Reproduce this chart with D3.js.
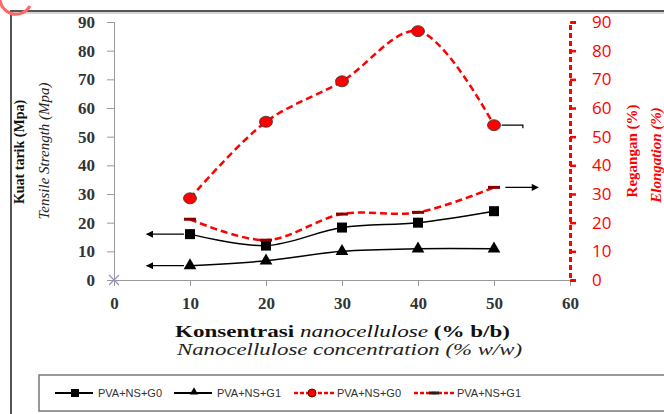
<!DOCTYPE html>
<html>
<head>
<meta charset="utf-8">
<script src="https://cdn.jsdelivr.net/npm/d3@7"></script>
<style>
  body { margin: 0; background: #fff; }
  svg { display: block; }
</style>
</head>
<body>
<div id="chart"></div>
<script>
// concentrations (% w/w)
const concentration = [10, 20, 30, 40, 50];
// tensile strength (Mpa), left axis
const tensileG0 = [16, 12, 18.3, 20, 24];
const tensileG1 = [5, 6.7, 10, 10.9, 10.9];
// elongation (%), right axis
const elongG0 = [28.5, 55.2, 69.3, 86.8, 54];
const elongG1 = [21.2, 13.9, 23, 23.6, 32.3];

const xTicks = [0, 10, 20, 30, 40, 50, 60];
const yTicks = [0, 10, 20, 30, 40, 50, 60, 70, 80, 90];
const legendNames = ['PVA+NS+G0', 'PVA+NS+G1', 'PVA+NS+G0', 'PVA+NS+G1'];

const width = 664, height = 414;
const svg = d3.select('#chart').append('svg')
    .attr('width', width)
    .attr('height', height);

// frame
svg.append('path')
    .attr('d', `M11,${height} V11 H${width}`)
    .attr('fill', 'none')
    .attr('stroke', '#555')
    .attr('stroke-width', 2);
svg.append('line').attr('x1', 12).attr('x2', width).attr('y1', 13).attr('y2', 13)
    .attr('stroke', '#aaa').attr('stroke-width', 1);

// watermark arc top-left
svg.append('path')
    .attr('d', 'M0,-2 A16,16 0 0 0 30,6')
    .attr('fill', 'none').attr('stroke', '#f66').attr('stroke-width', 3);

const xScale = d3.scaleLinear().domain([0, 60]).range([114, 570]);
const yLeft = d3.scaleLinear().domain([0, 90]).range([280, 22]);
const yRight = d3.scaleLinear().domain([0, 90]).range([280, 22]);

// left axis
const leftAxis = svg.append('g')
    .attr('transform', `translate(${xScale(0)},0)`)
    .call(d3.axisLeft(yLeft).tickValues(yTicks).tickSize(7).tickPadding(12));
leftAxis.select('.domain').attr('stroke', '#999');
leftAxis.selectAll('.tick line').attr('stroke', '#999');
leftAxis.selectAll('text')
    .attr('font-family', 'Liberation Serif, serif')
    .attr('font-size', 17).attr('font-weight', 'bold').attr('fill', '#333');

// bottom axis
const bottomAxis = svg.append('g')
    .attr('transform', `translate(0,${yLeft(0)})`)
    .call(d3.axisBottom(xScale).tickValues(xTicks).tickSize(6).tickPadding(11));
bottomAxis.select('.domain').attr('stroke', '#999');
bottomAxis.selectAll('.tick line').attr('stroke', '#999');
bottomAxis.selectAll('text')
    .attr('font-family', 'Liberation Serif, serif')
    .attr('font-size', 17).attr('font-weight', 'bold').attr('fill', '#333');

// right axis (red dashed)
const rightAxis = svg.append('g')
    .attr('transform', `translate(${xScale(60)},0)`)
    .call(d3.axisRight(yRight).tickValues(yTicks).tickSize(6).tickPadding(16));
rightAxis.select('.domain').attr('stroke', 'red').attr('stroke-width', 3)
    .attr('stroke-dasharray', '5,3');
rightAxis.selectAll('.tick line').attr('stroke', 'red').attr('stroke-width', 2.5);
rightAxis.selectAll('text')
    .attr('font-family', 'Open Sans, sans-serif')
    .attr('font-size', 17).attr('fill', 'red');

// axis titles
svg.append('text')
    .attr('transform', `translate(24,152) rotate(-90)`)
    .attr('text-anchor', 'middle')
    .attr('font-family', 'Liberation Serif, serif').attr('font-weight', 'bold')
    .attr('font-size', 14).attr('fill', '#111')
    .text('Kuat tarik (Mpa)');
svg.append('text')
    .attr('transform', `translate(49,151) rotate(-90)`)
    .attr('text-anchor', 'middle')
    .attr('font-family', 'Liberation Serif, serif').attr('font-style', 'italic')
    .attr('font-size', 15).attr('fill', '#222')
    .text('Tensile Strength (Mpa)');
svg.append('text')
    .attr('transform', `translate(637,151) rotate(-90)`)
    .attr('text-anchor', 'middle')
    .attr('font-family', 'Liberation Serif, serif').attr('font-weight', 'bold')
    .attr('font-size', 15).attr('fill', 'red')
    .text('Regangan (%)');
svg.append('text')
    .attr('transform', `translate(661,155) rotate(-90)`)
    .attr('text-anchor', 'middle')
    .attr('font-family', 'Liberation Serif, serif').attr('font-weight', 'bold')
    .attr('font-style', 'italic')
    .attr('font-size', 15).attr('fill', 'red')
    .text('Elongation (%)');
svg.append('text')
    .attr('x', 175).attr('y', 337)
    .attr('textLength', 335).attr('lengthAdjust', 'spacingAndGlyphs')
    .attr('font-family', 'Liberation Serif, serif')
    .attr('font-size', 16).attr('fill', '#111')
    .call(t => {
        t.append('tspan').attr('font-weight', 'bold').text('Konsentrasi ');
        t.append('tspan').attr('font-style', 'italic').text('nanocellulose');
        t.append('tspan').attr('font-weight', 'bold').text(' (% b/b)');
    });
svg.append('text')
    .attr('x', 177).attr('y', 355)
    .attr('textLength', 345).attr('lengthAdjust', 'spacingAndGlyphs')
    .attr('font-family', 'Liberation Serif, serif').attr('font-style', 'italic')
    .attr('font-size', 16).attr('fill', '#222')
    .text('Nanocellulose concentration (% w/w)');

// origin marker
const ox = xScale(0), oy = yLeft(0);
svg.append('path')
    .attr('d', `M${ox - 5},${oy - 5}L${ox + 5},${oy + 5}M${ox - 5},${oy + 5}L${ox + 5},${oy - 5}`)
    .attr('stroke', '#9b8cc4').attr('stroke-width', 1.2);

const rows = (vals) => concentration.map((c, i) => ({ x: c, y: vals[i] }));
const lineL = d3.line().x(d => xScale(d.x)).y(d => yLeft(d.y)).curve(d3.curveCatmullRom);
const lineR = d3.line().x(d => xScale(d.x)).y(d => yRight(d.y)).curve(d3.curveCatmullRom);

// tensile lines
svg.append('path').attr('d', lineL(rows(tensileG0)))
    .attr('fill', 'none').attr('stroke', '#000').attr('stroke-width', 1.5);
svg.append('path').attr('d', lineL(rows(tensileG1)))
    .attr('fill', 'none').attr('stroke', '#000').attr('stroke-width', 1.5);

// elongation lines
svg.append('path').attr('d', lineR(rows(elongG0)))
    .attr('fill', 'none').attr('stroke', 'red').attr('stroke-width', 2.5)
    .attr('stroke-dasharray', '7,4');
svg.append('path').attr('d', lineR(rows(elongG1)))
    .attr('fill', 'none').attr('stroke', 'red').attr('stroke-width', 2.5)
    .attr('stroke-dasharray', '7,4');

// markers
svg.selectAll('.sq').data(rows(tensileG0)).enter().append('rect')
    .attr('x', d => xScale(d.x) - 5).attr('y', d => yLeft(d.y) - 5)
    .attr('width', 10).attr('height', 10).attr('fill', '#000');
svg.selectAll('.tri').data(rows(tensileG1)).enter().append('path')
    .attr('transform', d => `translate(${xScale(d.x)},${yLeft(d.y)})`)
    .attr('d', d3.symbol(d3.symbolTriangle, 70))
    .attr('fill', '#000');
svg.selectAll('.circ').data(rows(elongG0)).enter().append('ellipse')
    .attr('cx', d => xScale(d.x)).attr('cy', d => yRight(d.y))
    .attr('rx', 6.5).attr('ry', 5.5)
    .attr('fill', 'red').attr('stroke', '#333').attr('stroke-width', 0.8);
svg.selectAll('.dash').data(rows(elongG1)).enter().append('rect')
    .attr('x', d => xScale(d.x) - 6).attr('y', d => yRight(d.y) - 1.5)
    .attr('width', 12).attr('height', 3).attr('fill', '#8b0000');

// arrows indicating axes
const defs = svg.append('defs');
defs.append('marker').attr('id', 'arr')
    .attr('viewBox', '0 0 10 10').attr('refX', 9).attr('refY', 5)
    .attr('markerWidth', 8).attr('markerHeight', 7).attr('orient', 'auto')
    .attr('markerUnits', 'userSpaceOnUse')
    .append('path').attr('d', 'M0,0L10,5L0,10Z').attr('fill', '#000');
function arrow(x1, x2, y) {
    svg.append('line').attr('x1', x1).attr('x2', x2).attr('y1', y).attr('y2', y)
        .attr('stroke', '#000').attr('stroke-width', 1.2)
        .attr('marker-end', 'url(#arr)');
}
arrow(xScale(9.2), xScale(4.3), yLeft(tensileG0[0]));
arrow(xScale(9.2), xScale(4.3), yLeft(tensileG1[0]));
arrow(xScale(51.5), xScale(55.8), yRight(elongG1[4]));
svg.append('path')
    .attr('d', `M${xScale(51)},${yRight(elongG0[4])}H${xScale(53.8)}v3`)
    .attr('fill', 'none').attr('stroke', '#000').attr('stroke-width', 1.2);

// legend
svg.append('rect')
    .attr('x', 39).attr('y', 375).attr('width', 640).attr('height', 36)
    .attr('fill', '#fff').attr('stroke', '#777').attr('stroke-width', 1.5);
const legendX = [55, 174, 294, 414];
const ly = 393;
legendX.forEach((lx, i) => {
    const g = svg.append('g');
    if (i < 2) {
        g.append('line').attr('x1', lx).attr('x2', lx + 38).attr('y1', ly).attr('y2', ly)
            .attr('stroke', '#000').attr('stroke-width', 2);
    } else {
        g.append('line').attr('x1', lx).attr('x2', lx + 40).attr('y1', ly).attr('y2', ly)
            .attr('stroke', 'red').attr('stroke-width', 2.5).attr('stroke-dasharray', '4,2');
    }
    const cx = lx + 20;
    if (i === 0) g.append('rect').attr('x', cx - 4).attr('y', ly - 4).attr('width', 8).attr('height', 8).attr('fill', '#000');
    if (i === 1) g.append('path').attr('transform', `translate(${cx},${ly - 1})`).attr('d', d3.symbol(d3.symbolTriangle, 30)).attr('fill', '#000');
    if (i === 2) g.append('circle').attr('cx', cx - 2).attr('cy', ly).attr('r', 4).attr('fill', 'red').attr('stroke', '#600');
    if (i === 3) g.append('rect').attr('x', cx - 5).attr('y', ly - 1.5).attr('width', 10).attr('height', 3).attr('fill', '#222');
    g.append('text').attr('x', lx + 43).attr('y', ly + 4)
        .attr('font-family', 'Liberation Sans, sans-serif').attr('font-size', 11)
        .attr('fill', '#333').text(legendNames[i]);
});
</script>
</body>
</html>
